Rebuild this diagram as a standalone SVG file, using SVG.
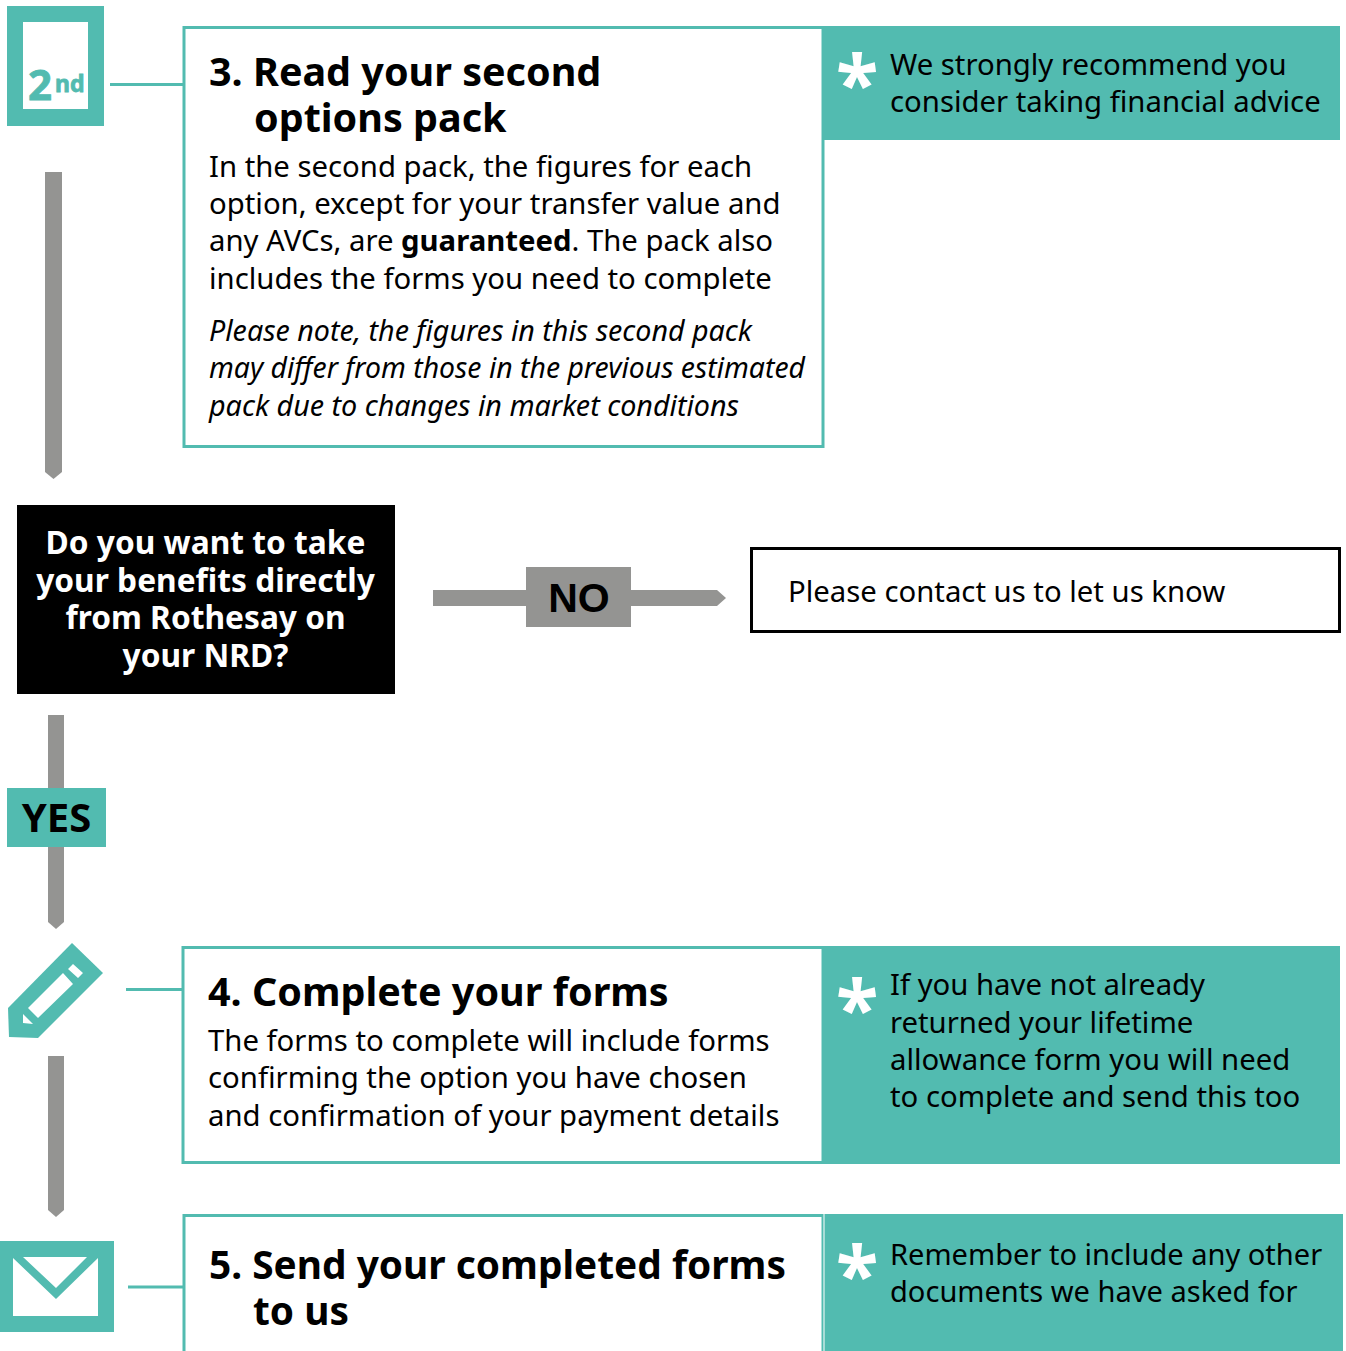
<svg xmlns="http://www.w3.org/2000/svg" width="1346" height="1351" viewBox="0 0 1346 1351">
<style>
text{font-family:"Noto Sans","Open Sans",sans-serif;fill:#000}
.b{font-size:29.300px}
.n5{font-size:29.050px}
.h{font-size:39.500px;font-weight:700}
.h5{font-size:38.850px;font-weight:700}
.q{font-size:31.700px;font-weight:700;fill:#fff}
.i{font-size:29.300px;font-style:italic}
.s{font-weight:700}
.box{fill:#fff;stroke:#52bbb0;stroke-width:3}
.t{fill:#52bbb0}
.g{fill:#949492}
.ln{stroke:#52bbb0;stroke-width:3;fill:none}
.st{font-size:78px;font-weight:700;fill:#fff}
.ic{fill:#52bbb0;stroke:#52bbb0;stroke-width:.8;font-weight:700}
</style>
<rect width="1346" height="1351" fill="#fff"/>
<g id="connectors">
<path class="ln" d="M110 84.500H184M126 989.500H183M128 1287H184"/>
<path class="g" d="M45 172H62V472L53.500 479L45 472Z"/>
<path class="g" d="M48 715H64V922L56 929L48 922Z"/>
<path class="g" d="M48 1056H64V1210L56 1217L48 1210Z"/>
<path class="g" d="M433 590H717L726 598L717 606H433Z"/>
</g>
<g id="icon-2nd">
<rect class="t" x="7" y="6" width="97" height="120"/>
<rect x="23" y="22" width="65" height="87" fill="#fff"/>
<text class="ic" x="28" y="100" font-size="42">2</text>
<text class="ic" x="55" y="92" font-size="23">nd</text>
</g>
<g id="step3">
<rect class="box" x="184" y="27.500" width="639" height="419"/>
<text class="h" x="209" y="86">3. Read your second</text>
<text class="h" x="254" y="132">options pack</text>
<text class="b" x="209" y="177">In the second pack, the figures for each</text>
<text class="b" x="209" y="214">option, except for your transfer value and</text>
<text class="b" x="209" y="251">any AVCs, are <tspan class="s">guaranteed</tspan>. The pack also</text>
<text class="b" x="209" y="289">includes the forms you need to complete</text>
<text class="i" x="209" y="341" textLength="543" lengthAdjust="spacingAndGlyphs">Please note, the figures in this second pack</text>
<text class="i" x="209" y="378" textLength="596" lengthAdjust="spacingAndGlyphs">may differ from those in the previous estimated</text>
<text class="i" x="209" y="416" textLength="530" lengthAdjust="spacingAndGlyphs">pack due to changes in market conditions</text>
</g>
<g id="note3">
<rect class="t" x="823" y="26" width="517" height="114"/>
<text class="st" x="836" y="112">*</text>
<text class="b" x="890" y="75">We strongly recommend you</text>
<text class="b" x="890" y="112">consider taking financial advice</text>
</g>
<g id="question">
<rect x="17" y="505" width="378" height="189" fill="#000"/>
<text class="q" x="205.500" y="554" text-anchor="middle">Do you want to take</text>
<text class="q" x="205.500" y="592" text-anchor="middle">your benefits directly</text>
<text class="q" x="205.500" y="629" text-anchor="middle">from Rothesay on</text>
<text class="q" x="205.500" y="667" text-anchor="middle">your NRD?</text>
</g>
<g id="no">
<rect x="526" y="567" width="105" height="60" fill="#949492"/>
<text x="579" y="612" text-anchor="middle" style="font-family:'Liberation Sans',sans-serif;font-weight:700;font-size:41px">NO</text>
</g>
<g id="contact">
<rect x="751.500" y="548.500" width="588" height="83" fill="#fff" stroke="#000" stroke-width="3"/>
<text class="b" x="788" y="602">Please contact us to let us know</text>
</g>
<g id="yes">
<rect class="t" x="7" y="788" width="99" height="59"/>
<text x="56.500" y="832" text-anchor="middle" style="font-weight:700;font-size:40px">YES</text>
</g>
<g id="icon-pencil">
<path class="t" d="M72 943L103 973L38 1038L9 1037L8 1008Z"/>
<path fill="#fff" d="M63 973L73 984L38 1018L28 1008ZM68 969L73 964L83 973L78 978ZM23 1014L33 1024L23 1023Z"/>
</g>
<g id="step4">
<rect class="box" x="183" y="947.500" width="640" height="215"/>
<text class="h" x="208" y="1006">4. Complete your forms</text>
<text class="b" x="208" y="1051">The forms to complete will include forms</text>
<text class="b" x="208" y="1088">confirming the option you have chosen</text>
<text class="b" x="208" y="1126">and confirmation of your payment details</text>
</g>
<g id="note4">
<rect class="t" x="822" y="946" width="518" height="218"/>
<text class="st" x="836" y="1037">*</text>
<text class="b" x="890" y="995">If you have not already</text>
<text class="b" x="890" y="1033">returned your lifetime</text>
<text class="b" x="890" y="1070">allowance form you will need</text>
<text class="b" x="890" y="1107">to complete and send this too</text>
</g>
<g id="icon-mail">
<rect class="t" x="0" y="1241" width="114" height="91"/>
<rect x="13" y="1257" width="85" height="59" fill="#fff"/>
<path class="t" d="M13 1257H23L56 1288L87 1257H98V1258L56 1299L13 1258Z"/>
</g>
<g id="step5">
<rect class="box" x="184" y="1215.500" width="639" height="140"/>
<text class="h5" x="209" y="1279">5. Send your completed forms</text>
<text class="h5" x="253" y="1325">to us</text>
</g>
<g id="note5">
<rect x="823" y="1214" width="2" height="137" fill="#a9ddd7"/>
<rect class="t" x="825" y="1214" width="518" height="137"/>
<text class="st" x="836" y="1303">*</text>
<text class="n5" x="890" y="1265">Remember to include any other</text>
<text class="n5" x="890" y="1302">documents we have asked for</text>
</g>
</svg>
